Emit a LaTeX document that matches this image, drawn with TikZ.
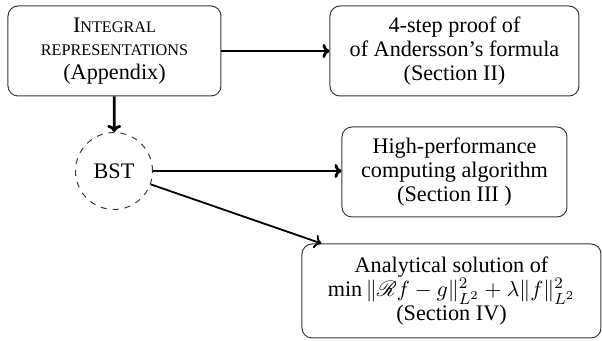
\documentclass[tikz,border=0pt]{standalone}
\usepackage{fontspec}
\setmainfont{Liberation Serif}
\usepackage{amsmath,mathrsfs}
\usepackage{xcolor}
\definecolor{framegray}{HTML}{3A3A3A}
\usepackage{tikz}
\usetikzlibrary{arrows.meta,positioning,calc}
\newcommand{\scword}[1]{{\fontsize{8.1pt}{9pt}\selectfont #1}}

\begin{document}
\begin{tikzpicture}[x=0.5pt, y=-0.5pt,
    font=\fontsize{11.1pt}{11.8pt}\selectfont,
    roundbox/.style={rectangle, rounded corners=5pt, draw=framegray, line width=0.5pt, align=center, inner sep=0pt},
    mainarrow/.style={-{To[length=3.5pt,width=7pt]}, line width=1.4pt},
    sidearrow/.style={-{To[length=3.5pt,width=7pt]}, line width=0.9pt}]
        \useasboundingbox (0,0) rectangle (602,341);
        \node[roundbox, minimum width=106.5pt, minimum height=45pt] (intrep) at (114.5,51) {I\scword{NTEGRAL}\\\scword{REPRESENTATIONS}\\(Appendix)};
        \node[roundbox, minimum width=124.5pt, minimum height=45pt] (proof) at (454.5,51) {4-step proof of\\of Andersson's formula\\(Section II)};
        \node[circle, draw=framegray, dashed, line width=0.5pt, minimum size=38.5pt, inner sep=0pt] (bst) at (114,171) {BST};
        \node[roundbox, minimum width=112.5pt, minimum height=45pt] (hpc) at (454.5,172) {High-performance\\computing algorithm\\(Section III )};
        \node[roundbox, minimum width=149.5pt, minimum height=47pt] (analytic) at (451.5,291) {Analytical solution of\\$\min\|\mathscr{R}f-g\|^2_{L^2}+\lambda\|f\|^2_{L^2}$\\(Section IV)};
        \draw[mainarrow] (intrep) -- (proof);
        \draw[mainarrow] (intrep) -- (bst);
        \draw[mainarrow] (bst.east) -- (bst.east -| hpc.west);
        \draw[sidearrow] (bst.-20) -- ([xshift=10pt]analytic.north west);
      \end{tikzpicture}
\end{document}
